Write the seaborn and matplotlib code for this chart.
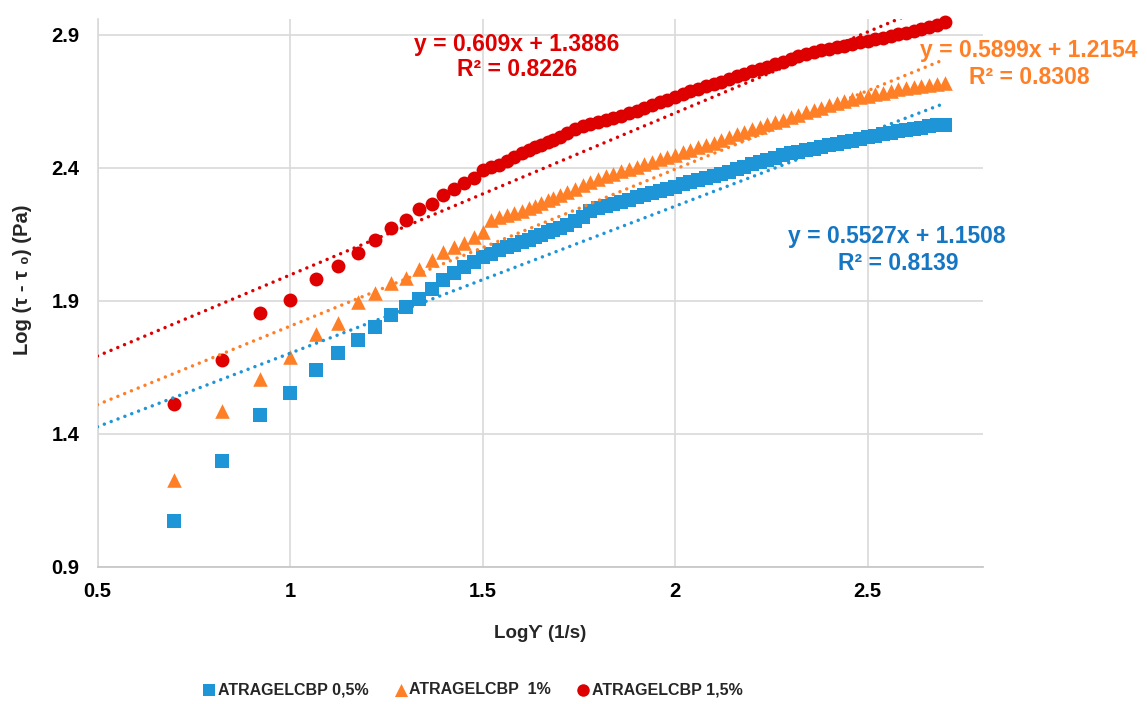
import numpy as np
import pandas as pd
import matplotlib
matplotlib.use("Agg")
import matplotlib.pyplot as plt
import seaborn as sns

# ---------------- data ----------------
log_shear = [0.699, 0.824, 0.921, 1.000, 1.067, 1.125, 1.176, 1.222, 1.263, 1.301,
             1.336, 1.368, 1.398, 1.426, 1.452, 1.477, 1.501, 1.523, 1.544, 1.564,
             1.583, 1.602, 1.620, 1.637, 1.653, 1.669, 1.684,
             1.70, 1.72, 1.74, 1.76, 1.78, 1.80, 1.82, 1.84, 1.86, 1.88,
             1.90, 1.92, 1.94, 1.96, 1.98, 2.00, 2.02, 2.04, 2.06, 2.08,
             2.10, 2.12, 2.14, 2.16, 2.18, 2.20, 2.22, 2.24, 2.26, 2.28,
             2.30, 2.32, 2.34, 2.36, 2.38, 2.40, 2.42, 2.44, 2.46, 2.48,
             2.50, 2.52, 2.54, 2.56, 2.58, 2.60, 2.62, 2.64, 2.66, 2.68, 2.70]

log_tau_05 = [1.074, 1.298, 1.471, 1.553, 1.641, 1.703, 1.753, 1.801, 1.847, 1.877,
              1.906, 1.945, 1.979, 2.004, 2.027, 2.046, 2.064, 2.078, 2.091, 2.102,
              2.112, 2.122, 2.131, 2.140, 2.149, 2.158, 2.167,
              2.176, 2.186, 2.200, 2.214, 2.240, 2.250, 2.257, 2.265, 2.272, 2.281,
              2.290, 2.298, 2.306, 2.314, 2.322, 2.330, 2.338, 2.346, 2.354, 2.362,
              2.370, 2.378, 2.386, 2.395, 2.405, 2.415, 2.423, 2.431, 2.439, 2.447,
              2.455, 2.461, 2.467, 2.473, 2.479, 2.485, 2.491, 2.497, 2.503, 2.509,
              2.515, 2.521, 2.527, 2.533, 2.539, 2.544, 2.548, 2.552, 2.556, 2.560, 2.563]

log_tau_1 = [1.227, 1.486, 1.606, 1.691, 1.776, 1.816, 1.895, 1.929, 1.967, 1.985,
             2.021, 2.054, 2.085, 2.104, 2.118, 2.142, 2.160, 2.205, 2.215, 2.223,
             2.230, 2.237, 2.248, 2.258, 2.268, 2.278, 2.288,
             2.298, 2.310, 2.322, 2.335, 2.348, 2.360, 2.369, 2.378, 2.387, 2.396,
             2.405, 2.414, 2.423, 2.432, 2.441, 2.450, 2.459, 2.468, 2.477, 2.486,
             2.495, 2.505, 2.515, 2.526, 2.537, 2.546, 2.555, 2.564, 2.573, 2.582,
             2.591, 2.600, 2.609, 2.618, 2.627, 2.635, 2.643, 2.651, 2.658, 2.665,
             2.671, 2.677, 2.683, 2.689, 2.695, 2.700, 2.704, 2.708, 2.712, 2.716, 2.720]

log_tau_15 = [1.513, 1.678, 1.856, 1.904, 1.983, 2.032, 2.082, 2.128, 2.173, 2.204,
              2.245, 2.265, 2.300, 2.321, 2.343, 2.361, 2.392, 2.403, 2.413, 2.425,
              2.442, 2.456, 2.467, 2.477, 2.487, 2.496, 2.505,
              2.515, 2.530, 2.545, 2.558, 2.566, 2.573, 2.580, 2.588, 2.596, 2.605,
              2.615, 2.625, 2.636, 2.647, 2.657, 2.667, 2.677, 2.688, 2.698, 2.707,
              2.716, 2.725, 2.735, 2.745, 2.755, 2.764, 2.772, 2.780, 2.789, 2.799,
              2.810, 2.820, 2.829, 2.836, 2.842, 2.848, 2.854, 2.860, 2.866, 2.872,
              2.878, 2.884, 2.890, 2.896, 2.902, 2.908, 2.915, 2.922, 2.930, 2.938, 2.948]

series_names = ["ATRAGELCBP 0,5%", "ATRAGELCBP  1%", "ATRAGELCBP 1,5%"]
trend_slopes = [0.5527, 0.5899, 0.609]
trend_intercepts = [1.1508, 1.2154, 1.3886]
trend_r2 = [0.8139, 0.8308, 0.8226]
trend_range = [0.5, 2.699]

x_ticks = [0.5, 1.0, 1.5, 2.0, 2.5]
y_ticks = [0.9, 1.4, 1.9, 2.4, 2.9]

# ---------------- style ----------------
colors = ["#1E95D6", "#FF7F27", "#DE0000"]
text_colors = ["#1577C4", "#FF7F27", "#DE0000"]
markers = ["s", "^", "o"]
msizes = [88, 110, 100]

sns.set_theme(style="white")
plt.rcParams["font.family"] = ["Liberation Sans", "DejaVu Sans"]
plt.rcParams["font.weight"] = "bold"

W, H = 1147, 704
fig = plt.figure(figsize=(W / 100, H / 100), dpi=100)
ax = fig.add_axes([97.5 / W, 1 - 567 / H, (983 - 97.5) / W, (567 - 19) / H])

ys = [log_tau_05, log_tau_1, log_tau_15]
frames = []
for name, y in zip(series_names, ys):
    frames.append(pd.DataFrame({"x": log_shear, "y": y, "series": name}))
df = pd.concat(frames, ignore_index=True)

for i, name in enumerate(series_names):
    sub = df[df["series"] == name]
    sns.scatterplot(data=sub, x="x", y="y", ax=ax, marker=markers[i], s=msizes[i],
                    color=colors[i], edgecolor=colors[i], linewidth=0,
                    label=name, legend=False, zorder=3, clip_on=False)

for i in range(3):
    tx = np.array(trend_range)
    tdf = pd.DataFrame({"x": tx, "y": trend_slopes[i] * tx + trend_intercepts[i]})
    sns.lineplot(data=tdf, x="x", y="y", ax=ax, color=colors[i], linewidth=2.5,
                 dashes=False, zorder=4, legend=False)
    ln = ax.lines[-1]
    ln.set_linestyle((0, (0.01, 2.1)))
    ln.set_dash_capstyle("round")

ax.set_xlim(0.5, 2.8)
ax.set_ylim(0.9, 2.96)
ax.set_xticks(x_ticks)
ax.set_xticklabels(["0.5", "1", "1.5", "2", "2.5"])
ax.set_yticks(y_ticks)
ax.set_yticklabels([f"{v:.1f}" for v in y_ticks])
ax.grid(True, color="#D9D9D9", linewidth=1.2)
ax.set_axisbelow(True)
for side in ["top", "right"]:
    ax.spines[side].set_visible(False)
ax.spines["left"].set_color("#D9D9D9")
ax.spines["left"].set_linewidth(1.2)
ax.spines["bottom"].set_color("#C8C8C8")
ax.spines["bottom"].set_linewidth(1.3)
ax.tick_params(axis="both", length=0, labelsize=14.5, colors="black")
ax.tick_params(axis="x", pad=11)
ax.tick_params(axis="y", pad=13)
for lab in ax.get_xticklabels() + ax.get_yticklabels():
    lab.set_fontweight("bold")

ax.set_xlabel("")
ax.set_ylabel("")
fig.text(540 / W, 1 - 634 / H, "Logϒ (1/s)", ha="center", va="center",
         fontsize=13.5, fontweight="bold")
fig.text(22 / W, 1 - 280 / H, "Log (τ - τ ₀) (Pa)", ha="center", va="center",
         rotation=90, fontsize=14.5, fontweight="bold")

# trendline equations
eq_pos = [((897, 236), (898, 263)), ((1029, 50), (1029, 77)), ((517, 44), (517, 70))]
for i in range(3):
    (x1, y1), (x2, y2) = eq_pos[i]
    fig.text(x1 / W, 1 - y1 / H, f"y = {trend_slopes[i]}x + {trend_intercepts[i]}",
             ha="center", va="center", fontsize=16.5, fontweight="bold", color=text_colors[i])
    fig.text(x2 / W, 1 - y2 / H, f"R² = {trend_r2[i]}",
             ha="center", va="center", fontsize=16.5, fontweight="bold", color=text_colors[i])

handles, labels = ax.get_legend_handles_labels()
leg = fig.legend(handles, labels, loc="center", bbox_to_anchor=(472 / W, 1 - 690 / H),
                 ncol=3, frameon=False, fontsize=11.5, handletextpad=0.05,
                 columnspacing=1.5, markerscale=0.9, handlelength=1.0)
for t in leg.get_texts():
    t.set_fontweight("bold")

fig.savefig("out.png", dpi=100)
